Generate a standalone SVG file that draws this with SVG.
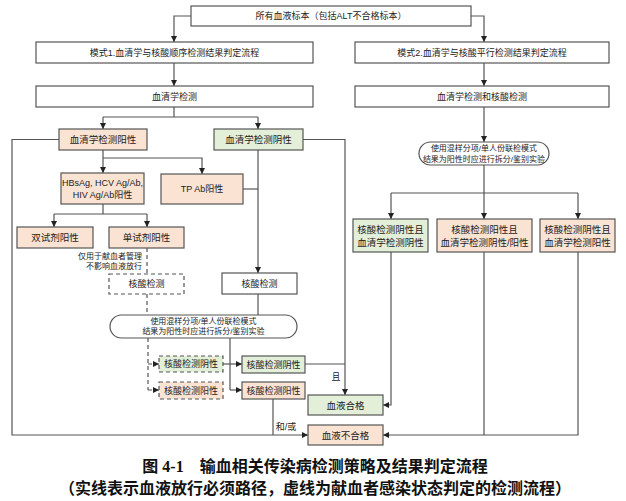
<svg xmlns="http://www.w3.org/2000/svg" width="626" height="501" viewBox="0 0 626 501">
<defs>
<marker id="arr" viewBox="0 0 10 10" refX="10" refY="5" markerWidth="6" markerHeight="6" markerUnits="userSpaceOnUse" orient="auto">
<path d="M0,0 L10,5 L0,10 z" fill="#222"/>
</marker>
<style>
text{font-family:"Liberation Sans","Noto Sans CJK SC",sans-serif;fill:#222;text-anchor:middle;dominant-baseline:central}
.b{fill:#fff;stroke:#555;stroke-width:1.2}
.p{fill:#fbe3d3;stroke:#555;stroke-width:1.2}
.g{fill:#e3efd9;stroke:#555;stroke-width:1.2}
.d{stroke-dasharray:4,3}
.l{fill:none;stroke:#555;stroke-width:1.2}
.a{marker-end:url(#arr)}
.s9{font-size:9px}
.s95{font-size:9.5px}
.s8{font-size:8px}
.cap{font-family:"Liberation Serif","Noto Sans CJK SC",serif;font-weight:bold;font-size:16px;fill:#111}
</style>
</defs>
<rect width="626" height="501" fill="#fff"/>
<g id="connectors">
<path class="l a" d="M191,16 H174 V42"/>
<path class="l a" d="M471,16 H484 V42"/>
<path class="l a" d="M174,63 V86"/>
<path class="l a" d="M484,63 V86"/>
<path class="l" d="M174,107 V117 M103,117 H258"/>
<path class="l a" d="M103,117 V129"/>
<path class="l a" d="M258,117 V129"/>
<path class="l a" d="M103,150 V173"/>
<path class="l a" d="M103,158 H202 V174"/>
<path class="l" d="M103,204 V214 M54,214 H147"/>
<path class="l a" d="M54,214 V227"/>
<path class="l a" d="M147,214 V227"/>
<path class="l d" d="M147,248 V274"/>
<path class="l d" d="M147,294 V315"/>
<path class="l a" d="M258,150 V273"/>
<path class="l" d="M243,189 H258"/>
<path class="l" d="M258,294 V315"/>
<path class="l d" d="M148,338 V390"/>
<path class="l d a" d="M148,364 H159"/>
<path class="l d a" d="M148,390 H159"/>
<path class="l" d="M230,338 V390"/>
<path class="l a" d="M223,364 H242"/>
<path class="l a" d="M230,390 H242"/>
<path class="l a" d="M303,139.5 H345 V395"/>
<path class="l" d="M305,364 H345"/>
<path class="l" d="M273,399 V435"/>
<path class="l a" d="M59,139.5 H12 V435 H308"/>
<path class="l a" d="M484,107 V142"/>
<path class="l" d="M484,165 V193 M391,193 H578"/>
<path class="l a" d="M391,193 V219"/>
<path class="l a" d="M484,193 V219"/>
<path class="l a" d="M578,193 V219"/>
<path class="l a" d="M391,252 V405 H383"/>
<path class="l" d="M484,252 V435"/>
<path class="l a" d="M578,252 V435 H383"/>
<text class="s9" x="336" y="377">且</text>
<text class="s9" x="286" y="427">和/或</text>
</g>
<g id="n_top"><rect class="b" x="191" y="6" width="280" height="20"/><text class="s9" x="331" y="16">所有血液标本（包括ALT不合格标本）</text></g>
<g id="n_mode1"><rect class="b" x="36" y="42" width="277" height="21"/><text class="s9" x="174.5" y="52.5">模式1.血清学与核酸顺序检测结果判定流程</text></g>
<g id="n_mode2"><rect class="b" x="355" y="42" width="254" height="21"/><text class="s9" x="482" y="52.5">模式2.血清学与核酸平行检测结果判定流程</text></g>
<g id="n_sero"><rect class="b" x="36" y="86" width="277" height="21"/><text class="s9" x="174.5" y="96.5">血清学检测</text></g>
<g id="n_sero_nat"><rect class="b" x="355" y="86" width="254" height="21"/><text class="s9" x="482" y="96.5">血清学检测和核酸检测</text></g>
<g id="n_sero_pos"><rect class="p" x="59" y="129" width="88" height="21"/><text class="s95" x="103" y="139.5">血清学检测阳性</text></g>
<g id="n_sero_neg"><rect class="g" x="214" y="129" width="89" height="21"/><text class="s95" x="258.5" y="139.5">血清学检测阴性</text></g>
<g id="n_hbsag"><rect class="p" x="61" y="173" width="83" height="31"/><text class="s9" x="102.5" y="183">HBsAg, HCV Ag/Ab,</text><text class="s9" x="102.5" y="194.5">HIV Ag/Ab阳性</text></g>
<g id="n_tp"><rect class="p" x="161" y="174" width="82" height="30"/><text class="s9" x="202" y="189">TP Ab阳性</text></g>
<g id="n_dual"><rect class="p" x="17" y="227" width="76" height="21"/><text class="s95" x="55" y="237.5">双试剂阳性</text></g>
<g id="n_single"><rect class="p" x="109" y="227" width="75" height="21"/><text class="s95" x="146.5" y="237.5">单试剂阳性</text></g>
<g id="n_note"><text class="s8" x="142" y="256" style="text-anchor:end">仅用于献血者管理</text><text class="s8" x="142" y="266" style="text-anchor:end">不影响血液放行</text></g>
<g id="n_nat_dash"><rect class="b d" x="109" y="274" width="75" height="20"/><text class="s9" x="146.5" y="284">核酸检测</text></g>
<g id="n_nat"><rect class="b" x="222" y="273" width="75" height="21"/><text class="s9" x="259.5" y="283.5">核酸检测</text></g>
<g id="n_pool1"><rect class="b" x="110" y="315" width="187" height="23" rx="11.5"/><text class="s8" x="203.5" y="321.5">使用混样分项/单人份联检模式</text><text class="s8" x="203.5" y="331.5">结果为阳性时应进行拆分/鉴别实验</text></g>
<g id="n_natneg_dash"><rect class="g d" x="159" y="356" width="64" height="16"/><text class="s9" x="191" y="364">核酸检测阴性</text></g>
<g id="n_natpos_dash"><rect class="p d" x="159" y="382" width="64" height="17"/><text class="s9" x="191" y="390.5">核酸检测阳性</text></g>
<g id="n_natneg"><rect class="g" x="242" y="356" width="63" height="17"/><text class="s9" x="273.5" y="364.5">核酸检测阴性</text></g>
<g id="n_natpos"><rect class="p" x="242" y="382" width="63" height="17"/><text class="s9" x="273.5" y="390.5">核酸检测阳性</text></g>
<g id="n_ok"><rect class="g" x="308" y="395" width="75" height="20"/><text class="s95" x="345.5" y="405">血液合格</text></g>
<g id="n_fail"><rect class="p" x="308" y="425" width="75" height="20"/><text class="s95" x="345.5" y="435">血液不合格</text></g>
<g id="n_pool2"><rect class="b" x="419" y="142" width="130" height="23" rx="11.5"/><text class="s8" x="484" y="148">使用混样分项/单人份联检模式</text><text class="s8" x="484" y="159">结果为阳性时应进行拆分/鉴别实验</text></g>
<g id="n_r1"><rect class="g" x="353" y="219" width="75" height="33"/><text class="s95" x="390.5" y="229">核酸检测阴性且</text><text class="s95" x="390.5" y="242">血清学检测阴性</text></g>
<g id="n_r2"><rect class="p" x="437" y="219" width="95" height="33"/><text class="s95" x="484.5" y="229">核酸检测阳性且</text><text class="s95" x="484.5" y="242">血清学检测阴性/阳性</text></g>
<g id="n_r3"><rect class="p" x="540" y="219" width="75" height="33"/><text class="s95" x="577.5" y="229">核酸检测阴性且</text><text class="s95" x="577.5" y="242">血清学检测阳性</text></g>
<g id="caption">
<text class="cap" x="315" y="466" xml:space="preserve">图 4-1　输血相关传染病检测策略及结果判定流程</text>
<text class="cap" x="315" y="488">（实线表示血液放行必须路径，虚线为献血者感染状态判定的检测流程）</text>
</g>
</svg>
